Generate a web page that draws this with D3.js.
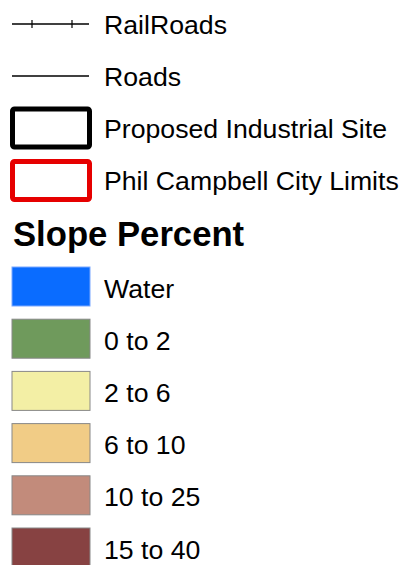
<!DOCTYPE html>
<html>
<head>
<meta charset="utf-8">
<script src="https://cdn.jsdelivr.net/npm/d3@7"></script>
<style>
html,body{margin:0;padding:0;background:#fff;overflow:hidden;}
svg{display:block;}
text{font-family:"Liberation Sans",Arial,sans-serif;fill:#000;}
</style>
</head>
<body>
<svg id="chart" width="409" height="565"></svg>
<script>
// Line / outline legend entries
const lineLabels = ["RailRoads", "Roads"];
const outlineLabels = ["Proposed Industrial Site", "Phil Campbell City Limits"];
const outlineColors = ["#000000", "#e60000"];

// Slope percent classes
const title = "Slope Percent";
const slopeClasses = ["Water", "0 to 2", "2 to 6", "6 to 10", "10 to 25", "15 to 40"];
const slopeColors = ["#0a6cff", "#6f9a5c", "#f3efa5", "#f1cc86", "#c28b7b", "#874242"];
const slopeBorders = ["#7aa8ff", "#888888", "#888888", "#888888", "#888888", "#888888"];

const svg = d3.select("#chart");
const fontSize = 26.67;
const textX = 104;

// Lines
const lineY = d3.scalePoint().domain(lineLabels).range([24, 76]);
const lineG = svg.append("g");
lineG.selectAll("line.main").data(lineLabels).join("line")
  .attr("class","main")
  .attr("x1", 12).attr("x2", 89)
  .attr("y1", d => lineY(d)).attr("y2", d => lineY(d))
  .attr("stroke", "#000").attr("stroke-width", 1.3);
// railroad ticks
const railTicks = [32, 72];
lineG.selectAll("line.tick").data(railTicks).join("line")
  .attr("class","tick")
  .attr("x1", d => d).attr("x2", d => d)
  .attr("y1", lineY("RailRoads") - 4).attr("y2", lineY("RailRoads") + 4)
  .attr("stroke", "#000").attr("stroke-width", 1.2);
lineG.selectAll("text").data(lineLabels).join("text")
  .attr("x", textX).attr("y", d => lineY(d) + 10)
  .attr("font-size", fontSize)
  .text(d => d);

// Outline rects
const outY = d3.scalePoint().domain(outlineLabels).range([109, 161.5]);
const outG = svg.append("g");
outG.selectAll("rect").data(outlineLabels).join("rect")
  .attr("x", 12.5).attr("y", d => outY(d))
  .attr("width", 77).attr("height", 38)
  .attr("rx", 2)
  .attr("fill", "#fff")
  .attr("stroke", (d,i) => outlineColors[i])
  .attr("stroke-width", 5);
outG.selectAll("text").data(outlineLabels).join("text")
  .attr("x", textX).attr("y", d => outY(d) + 28.5)
  .attr("font-size", fontSize)
  .text(d => d);

// Title
svg.append("text")
  .attr("x", 13).attr("y", 246)
  .attr("font-size", 34.67).attr("font-weight", "bold")
  .text(title);

// Swatches
const swY = d3.scalePoint().domain(slopeClasses).range([267, 528]);
const swG = svg.append("g");
swG.selectAll("rect").data(slopeClasses).join("rect")
  .attr("x", 12).attr("y", d => swY(d))
  .attr("width", 78).attr("height", 39)
  .attr("fill", (d,i) => slopeColors[i])
  .attr("stroke", (d,i) => slopeBorders[i])
  .attr("stroke-width", 1);
swG.selectAll("text").data(slopeClasses).join("text")
  .attr("x", textX).attr("y", d => swY(d) + 30.5)
  .attr("font-size", fontSize)
  .text(d => d);
</script>
</body>
</html>
